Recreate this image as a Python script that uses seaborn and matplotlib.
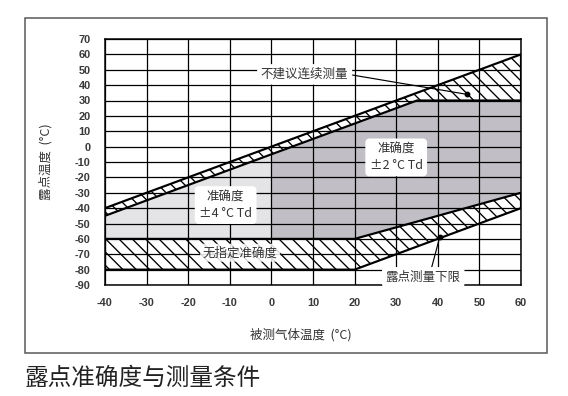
import matplotlib
matplotlib.use("Agg")
import matplotlib.pyplot as plt
import matplotlib.patches as mpatches
import seaborn as sns
import pandas as pd

# 区域边界顶点 (被测气体温度 °C, 露点温度 °C)
upper_band_x = [-40, 60, 60, 35, -40]
upper_band_y = [-40, 60, 30, 30, -45]
light_x = [-40, 0, 0, -40]
light_y = [-60, -60, -5, -45]
dark_x = [0, 20, 60, 60, 35, 0]
dark_y = [-60, -60, -30, 30, 30, -5]
lower_band_x = [-40, 20, 60, 60, 20, -40]
lower_band_y = [-60, -60, -30, -40, -80, -80]

x_ticks = list(range(-40, 61, 10))
y_ticks = list(range(-90, 71, 10))

note_top_text = "不建议连续测量"
note_top_xy = (47, 34)
note_top_pos = (8, 47)
note_low_text = "露点测量下限"
note_low_xy = (40.5, -58.5)
note_low_pos = (36.5, -85)
acc2_text = "准确度\n±2 °C Td"
acc2_pos = (30, -7)
acc4_text = "准确度\n±4 °C Td"
acc4_pos = (-11, -38)
none_text = "无指定准确度"
none_pos = (-7.5, -69)

sns.set_theme(style="white")
plt.rcParams['font.family'] = ['Noto Sans CJK SC', 'DejaVu Sans']
plt.rcParams['hatch.linewidth'] = 0.8
plt.rcParams['axes.unicode_minus'] = False

DPI = 120
fig = plt.figure(figsize=(568 / DPI, 396 / DPI), dpi=DPI)
ax = fig.add_axes([105 / 568, 111 / 396, 416 / 568, 246 / 396])

light_c = "#e4e4e6"
dark_c = "#c1bfc5"

ax.fill(light_x, light_y, color=light_c, lw=0, zorder=1)
ax.fill(dark_x, dark_y, color=dark_c, lw=0, zorder=1)
ax.fill(upper_band_x, upper_band_y, facecolor="white", edgecolor="black",
        hatch="\\\\\\", lw=0, zorder=1.2)
ax.fill(lower_band_x, lower_band_y, facecolor="white", edgecolor="black",
        hatch="\\\\\\", lw=0, zorder=1.2)

# band outlines
for bx, by in [(upper_band_x, upper_band_y), (lower_band_x, lower_band_y)]:
    df = pd.DataFrame({"x": bx + bx[:1], "y": by + by[:1]})
    sns.lineplot(data=df, x="x", y="y", sort=False, estimator=None,
                 color="black", lw=1.3, ax=ax, zorder=2)

ax.set_xlim(-40, 60)
ax.set_ylim(-90, 70)
ax.set_xticks(x_ticks)
ax.set_yticks(y_ticks)
ax.grid(True, color="black", lw=0.75)
ax.set_axisbelow(False)
for s in ax.spines.values():
    s.set_color("black")
    s.set_linewidth(0.9)

ax.tick_params(axis="both", length=0, labelsize=6.6, labelcolor="#3a3a3a")
ax.tick_params(axis="y", pad=8.5)
ax.tick_params(axis="x", pad=7.5)
for lab in ax.get_xticklabels() + ax.get_yticklabels():
    lab.set_family(['Liberation Sans', 'DejaVu Sans'])
    lab.set_fontweight("bold")

ax.set_xlabel("被测气体温度  (°C)", fontsize=7.5, color="#333333")
ax.set_ylabel("露点温度  (°C)", fontsize=7.5, color="#333333")
ax.xaxis.set_label_coords(0.47, -0.175)
ax.yaxis.set_label_coords(-0.127, 0.5)

box = dict(boxstyle="round,pad=0.3", fc="white", ec="none")
ax.annotate(note_top_text, xy=note_top_xy, xytext=note_top_pos,
            ha="center", va="center", fontsize=7.5, color="#333333", bbox=box,
            arrowprops=dict(arrowstyle="-", color="black", lw=0.7,
                            shrinkA=0, shrinkB=0, relpos=(1, 0.5)), zorder=4)
ax.plot(*note_top_xy, "o", color="black", ms=2.5, zorder=4)
ax.annotate(note_low_text, xy=note_low_xy, xytext=note_low_pos,
            ha="center", va="center", fontsize=7.5, color="#333333", bbox=box,
            arrowprops=dict(arrowstyle="-", color="black", lw=0.7,
                            shrinkA=0, shrinkB=0, relpos=(0.6, 1)), zorder=4)
ax.plot(*note_low_xy, "o", color="black", ms=2.5, zorder=4)

ax.text(*acc2_pos, acc2_text, ha="center", va="center", fontsize=7.5,
        color="#333333", bbox=dict(boxstyle="round,pad=0.35", fc="white", ec="none"),
        zorder=4, linespacing=1.3)
ax.text(*acc4_pos, acc4_text, ha="center", va="center", fontsize=7.5,
        color="#333333", bbox=dict(boxstyle="round,pad=0.35", fc="white", ec="none"),
        zorder=4, linespacing=1.3)
ax.text(*none_pos, none_text, ha="center", va="center", fontsize=7.5,
        color="#333333", bbox=dict(boxstyle="round,pad=0.2", fc="white", ec="none", alpha=0.85),
        zorder=4)

# outer frame
fig.patches.append(mpatches.Rectangle((25 / 568, 43 / 396), 522 / 568, 335 / 396,
                                      transform=fig.transFigure, fill=False,
                                      ec="#555555", lw=0.9))

fig.text(25 / 568, 18 / 396, "露点准确度与测量条件", fontsize=14.2,
         style="italic", color="#222222", ha="left", va="center")

fig.savefig("out.png", dpi=DPI)
